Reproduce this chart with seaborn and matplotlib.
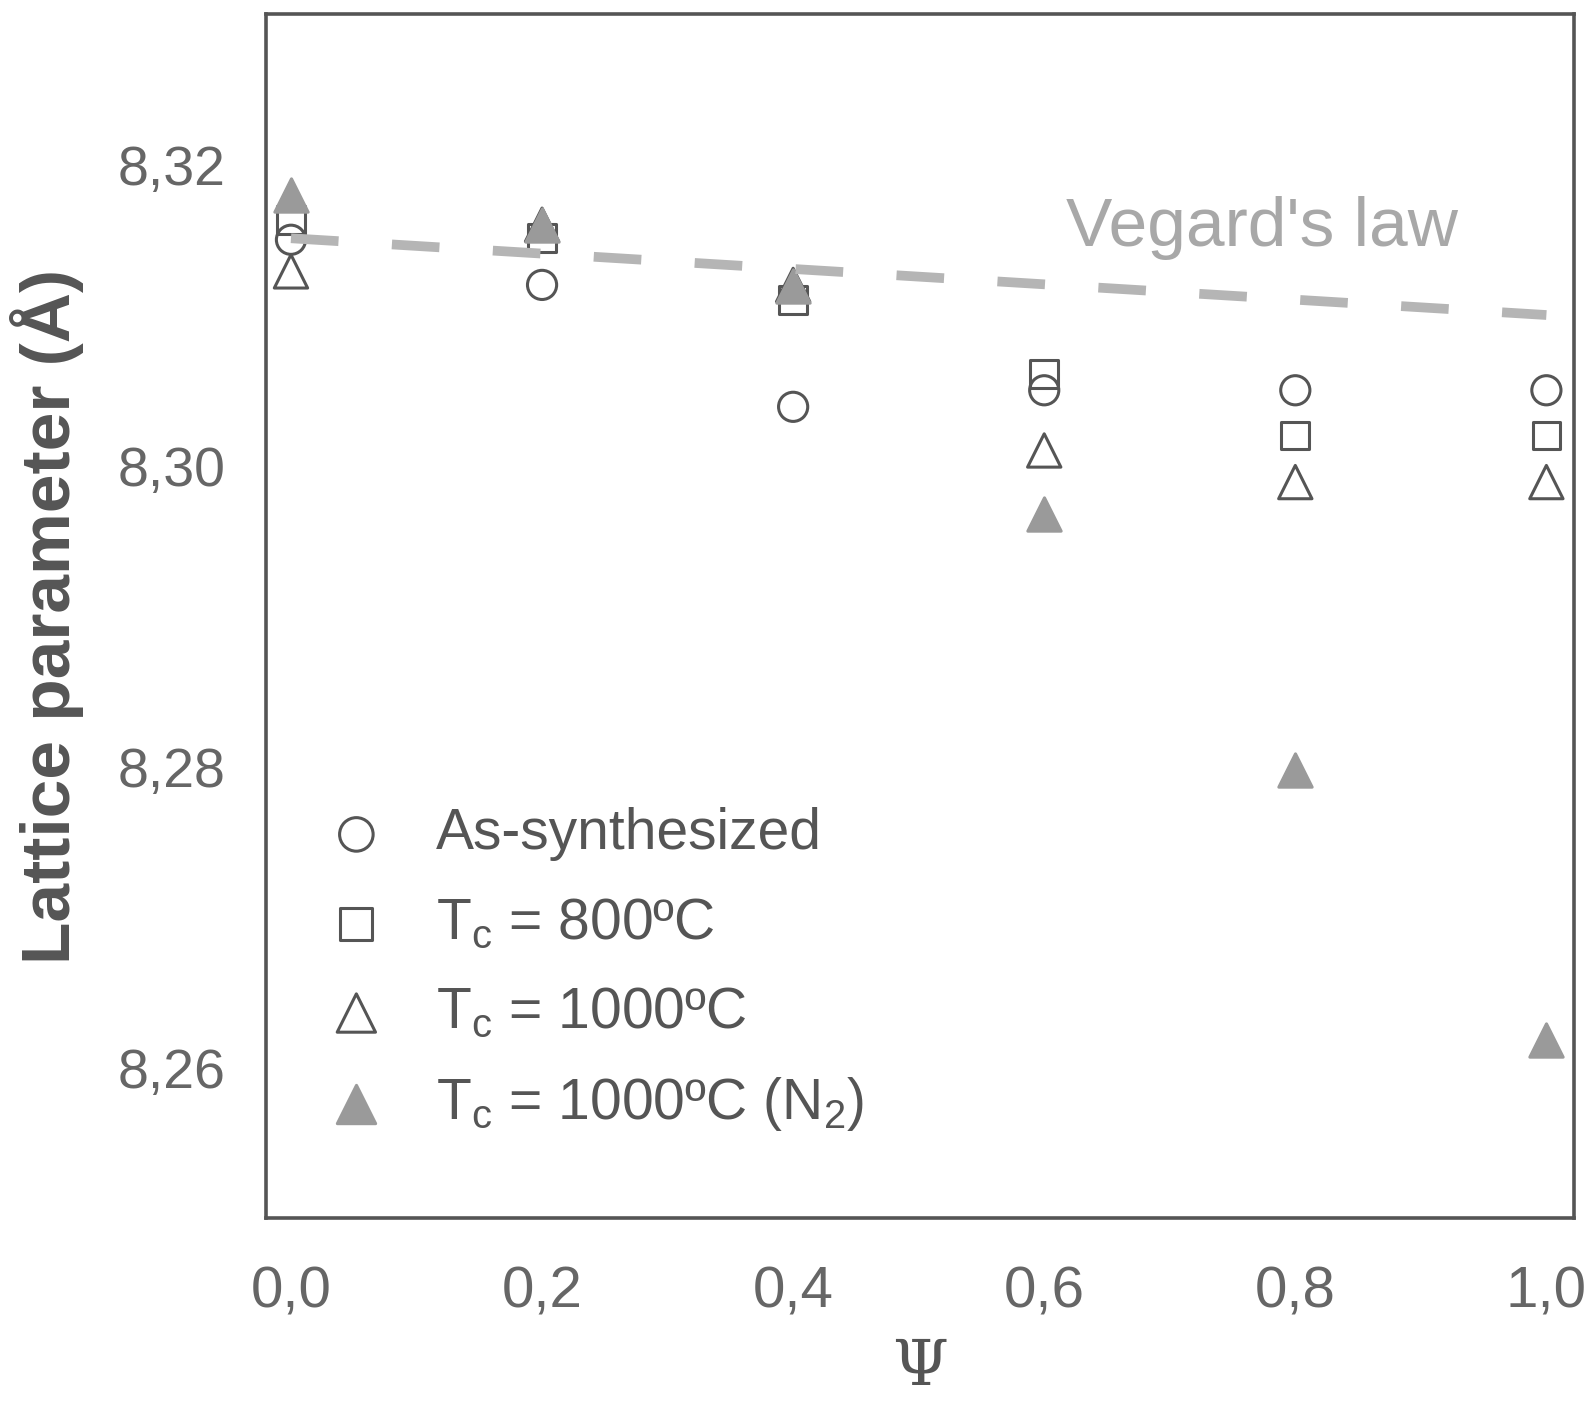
import numpy as np
import pandas as pd
import matplotlib
matplotlib.use('Agg')
import matplotlib.pyplot as plt
import seaborn as sns

# Data
psi = [0.0, 0.2, 0.4, 0.6, 0.8, 1.0]
as_synth = [8.3150, 8.3120, 8.3039, 8.3050, 8.3050, 8.3050]
tc_800 = [8.3163, 8.3151, 8.3110, 8.3061, 8.3020, 8.3020]
tc_1000 = [8.3129, 8.3160, 8.3120, 8.3010, 8.2989, 8.2989]
tc_1000_n2 = [8.3180, 8.3160, 8.3119, 8.2968, 8.2798, 8.2618]
vegard_x = [0.0, 1.0]
vegard_y = [8.3151, 8.3100]

yticks = [8.26, 8.28, 8.30, 8.32]
xticks = [0.0, 0.2, 0.4, 0.6, 0.8, 1.0]

sns.set_theme(style='white')
plt.rcParams['font.family'] = ['Liberation Sans', 'DejaVu Sans']
plt.rcParams['mathtext.fontset'] = 'custom'
plt.rcParams['mathtext.rm'] = 'Liberation Sans'

dark = '#555555'
fig = plt.figure(figsize=(15.92, 14.01), dpi=100)
ax = fig.add_axes([0.167, 0.1306, 0.8217, 0.8594])

series = [
    ('As-synthesized', as_synth, 'o', 21, 'none', dark),
    (r'T$_\mathregular{c}$ = 800ºC', tc_800, 's', 20, 'none', dark),
    (r'T$_\mathregular{c}$ = 1000ºC', tc_1000, '^', 24, 'none', dark),
    (r'T$_\mathregular{c}$ = 1000ºC (N$_\mathregular{2}$)', tc_1000_n2, '^', 24, '#9a9a9a', '#9a9a9a'),
]
for i, (lab, vals, mk, ms, fc, ec) in enumerate(series):
    df = pd.DataFrame({'psi': psi, 'a': vals})
    sns.scatterplot(data=df, x='psi', y='a', marker=mk, s=ms ** 2,
                    facecolor=fc, edgecolor=ec, linewidth=2.2,
                    label=lab, ax=ax, zorder=3 + i)

# Vegard's law reference line
vdf = pd.DataFrame({'psi': vegard_x, 'a': vegard_y})
sns.lineplot(data=vdf, x='psi', y='a', color='#b5b5b5', linewidth=7,
             dashes=False, ax=ax, zorder=8, legend=False)
ax.lines[-1].set_dashes((4.9, 5.5))

ax.text(0.617, 8.3158, "Vegard's law", fontsize=50, color='#a8a8a8',
        ha='left', va='center')

ax.set_xlim(-0.02, 1.022)
ax.set_ylim(8.25, 8.33)
ax.set_xticks(xticks)
ax.set_xticklabels([f'{v:.1f}'.replace('.', ',') for v in xticks], fontsize=42)
ax.set_yticks(yticks)
ax.set_yticklabels([f'{v:.2f}'.replace('.', ',') for v in yticks], fontsize=40)

ax.tick_params(axis='both', direction='out', length=18, width=1.6,
               color=dark, labelcolor='#666666')
ax.tick_params(axis='x', pad=16)
ax.tick_params(axis='y', pad=11)
for sp in ax.spines.values():
    sp.set_color(dark)
    sp.set_linewidth(2.6)

ax.set_xlabel('Ψ', fontsize=46, color=dark, family='DejaVu Serif', labelpad=13)
ax.set_ylabel('Lattice parameter (Å)', fontsize=50, fontweight='bold',
              color=dark, labelpad=24)

leg = ax.legend(loc='upper left', bbox_to_anchor=(0.03, 0.36), frameon=False,
                fontsize=41, labelcolor=dark, handletextpad=0.9,
                labelspacing=0.62, handlelength=1.0, borderaxespad=0,
                markerscale=1.15)

fig.savefig('out.png', dpi=100)
